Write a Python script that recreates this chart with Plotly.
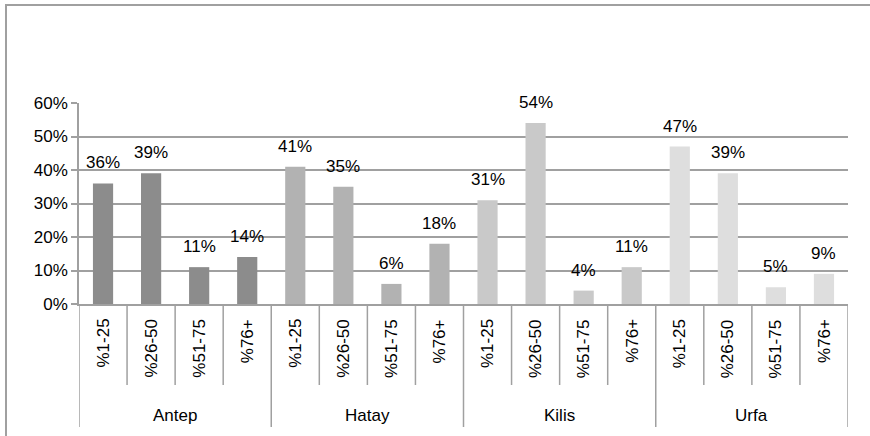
import plotly.graph_objects as go

regions = ["Antep", "Hatay", "Kilis", "Urfa"]
ranges = ["%1-25", "%26-50", "%51-75", "%76+"]
antep = [0.36, 0.39, 0.11, 0.14]
hatay = [0.41, 0.35, 0.06, 0.18]
kilis = [0.31, 0.54, 0.04, 0.11]
urfa = [0.47, 0.39, 0.05, 0.09]
colors = ["#8C8C8C", "#B2B2B2", "#C9C9C9", "#DEDEDE"]
y_ticks = [0, 0.1, 0.2, 0.3, 0.4, 0.5, 0.6]

series = [antep, hatay, kilis, urfa]
FONT = "Liberation Sans"
FS = 17
GRID = "#A0A0A0"

W, H = 870, 436
L, R, T, B = 79, 22, 103, 132
plot_h = H - T - B
plot_w = W - L - R

def py(p):  # pixel y -> paper y
    return (H - B - p) / plot_h

def px(p):  # pixel x -> paper x
    return (p - L) / plot_w

fig = go.Figure()
cats = []
for gi, (reg, vals) in enumerate(zip(regions, series)):
    xs = [f"{reg} {r}" for r in ranges]
    cats += xs
    fig.add_trace(go.Bar(x=xs, y=vals, marker=dict(color=colors[gi], line=dict(width=0)),
                         showlegend=False, hoverinfo="x+y"))

annotations = []
shapes = []
for gi, (reg, vals) in enumerate(zip(regions, series)):
    for ri, (r, v) in enumerate(zip(ranges, vals)):
        idx = gi * 4 + ri
        annotations.append(dict(x=idx, y=v, xref="x", yref="y", text=f"{round(v*100)}%",
                                showarrow=False, yanchor="bottom", yshift=9,
                                font=dict(family=FONT, size=FS, color="#000")))
        annotations.append(dict(x=idx, y=py(317), xref="x", yref="paper", text=r,
                                showarrow=False, yanchor="top", xanchor="center", textangle=-90,
                                font=dict(family=FONT, size=FS, color="#000")))
    annotations.append(dict(x=gi * 4 + 1.5, y=py(415), xref="x", yref="paper", text=reg,
                            showarrow=False, yanchor="middle",
                            font=dict(family=FONT, size=FS, color="#000")))

for k in range(17):
    xb = k - 0.5
    bottom = py(427) if k % 4 == 0 else py(385)
    shapes.append(dict(type="line", xref="x", yref="paper", x0=xb, x1=xb, y0=0, y1=bottom,
                       line=dict(color=GRID, width=1.5)))

# outer chart border (top and left edges visible)
shapes.append(dict(type="line", xref="paper", yref="paper", x0=px(5), x1=px(880),
                   y0=py(5), y1=py(5), line=dict(color=GRID, width=2)))
shapes.append(dict(type="line", xref="paper", yref="paper", x0=px(6), x1=px(6),
                   y0=py(4), y1=py(450), line=dict(color=GRID, width=2)))

fig.update_layout(
    width=W, height=H,
    margin=dict(l=L, r=R, t=T, b=B),
    paper_bgcolor="white", plot_bgcolor="white",
    bargap=0.58,
    annotations=annotations,
    shapes=shapes,
    font=dict(family=FONT, size=FS, color="#000"),
)
fig.update_xaxes(type="category", categoryorder="array", categoryarray=cats,
                 showticklabels=False, showline=True, linecolor=GRID, linewidth=1.5,
                 ticks="", showgrid=False, range=[-0.5, 15.5], fixedrange=True)
fig.update_yaxes(range=[0, 0.6], tickvals=y_ticks, tickformat=".0%",
                 showgrid=True, gridcolor=GRID, gridwidth=1.5,
                 showline=True, linecolor=GRID, linewidth=1.5,
                 ticks="outside", ticklen=6, tickcolor=GRID, tickwidth=1.5,
                 tickfont=dict(family=FONT, size=FS, color="#000"), zeroline=False)

fig.write_html("out.html", config={"displayModeBar": False},
               post_script=("document.body.style.margin='0';"
                            "document.body.style.padding='0';"
                            "document.body.style.overflow='hidden';"
                            "document.documentElement.style.overflow='hidden';"))
